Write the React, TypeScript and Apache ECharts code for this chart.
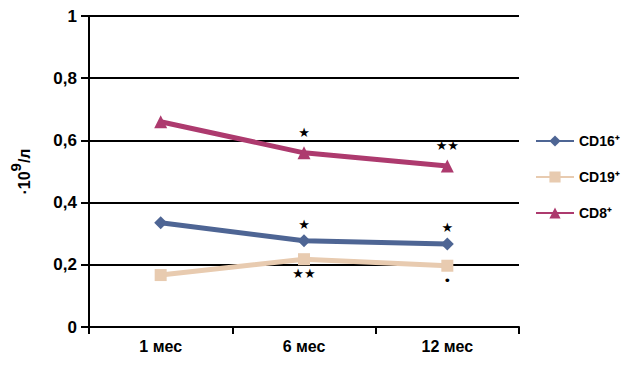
import React, { useEffect, useRef } from "react";
import * as echarts from "echarts";

const categories = ["1 мес", "6 мес", "12 мес"];
const cd16 = [0.335, 0.277, 0.267];
const cd19 = [0.167, 0.218, 0.197];
const cd8 = [0.66, 0.56, 0.518];
const cd16Marks = ["", "★", "★"];
const cd19Marks = ["", "★★", "•"];
const cd8Marks = ["", "★", "★★"];
const yTicks = [0, 0.2, 0.4, 0.6, 0.8, 1];

const FONT = "'Liberation Sans', Arial, sans-serif";

function mkData(values: number[], marks: string[]) {
  return values.map((v, i) => ({ value: v, mark: marks[i] }));
}

export default function App() {
  const ref = useRef<HTMLDivElement>(null);
  useEffect(() => {
    if (!ref.current) return;
    const chart = echarts.init(ref.current, null, { renderer: "svg" });
    const labelFor = (pos: string, dist: number) => ({
      show: true,
      position: pos,
      distance: dist,
      color: "#000",
      fontSize: 13,
      fontFamily: "'DejaVu Sans', sans-serif",
      formatter: (p: any) => p.data.mark || "",
    });
    const series = [
      { name: "CD16⁺", values: cd16, marks: cd16Marks, color: "#4e6594", symbol: "diamond", size: 13, label: labelFor("top", 3) },
      { name: "CD19⁺", values: cd19, marks: cd19Marks, color: "#e8cbb0", symbol: "rect", size: 12, label: labelFor("bottom", 2) },
      { name: "CD8⁺", values: cd8, marks: cd8Marks, color: "#ad3a6e", symbol: "triangle", size: 13, label: labelFor("top", 7) },
    ];
    chart.setOption({
      animation: false,
      backgroundColor: "#fff",
      grid: { left: 88, right: 104, top: 16, bottom: 38 },
      legend: {
        orient: "vertical",
        left: 530,
        top: 129,
        itemWidth: 38,
        itemHeight: 14,
        itemGap: 22,
        textStyle: { fontFamily: FONT, fontWeight: "bold", fontSize: 14, color: "#000" },
        data: series.map((s) => s.name),
      },
      xAxis: {
        type: "category",
        data: categories,
        boundaryGap: true,
        axisLine: { lineStyle: { color: "#000", width: 2 } },
        axisTick: { show: true, length: 7, lineStyle: { color: "#000", width: 2 } },
        axisLabel: { color: "#000", fontFamily: FONT, fontWeight: "bold", fontSize: 16, margin: 11 },
        splitLine: { show: false },
      },
      yAxis: {
        type: "value",
        min: yTicks[0],
        max: yTicks[yTicks.length - 1],
        interval: 0.2,
        name: "{n|·10}{s|9}{n|/л}",
        nameLocation: "middle",
        nameGap: 57,
        nameRotate: 90,
        nameTextStyle: {
          color: "#000",
          fontFamily: FONT,
          fontWeight: "bold",
          fontSize: 16,
          rich: {
            n: { fontFamily: FONT, fontWeight: "bold", fontSize: 16, color: "#000", verticalAlign: "bottom" },
            s: { fontFamily: FONT, fontWeight: "bold", fontSize: 15, color: "#000", verticalAlign: "bottom", padding: [0, 0, 9, 0] },
          },
        },
        axisLine: { show: true, lineStyle: { color: "#000", width: 2 } },
        axisTick: { show: true, length: 8, lineStyle: { color: "#000", width: 2 } },
        axisLabel: {
          color: "#000",
          fontFamily: FONT,
          fontWeight: "bold",
          fontSize: 17,
          margin: 12,
          formatter: (v: number) => String(Math.round(v * 10) / 10).replace(".", ","),
        },
        splitLine: { show: true, lineStyle: { color: "#000", width: 2 } },
      },
      series: series.map((s) => ({
        name: s.name,
        type: "line",
        data: mkData(s.values, s.marks),
        symbol: s.symbol,
        symbolSize: s.size,
        itemStyle: { color: s.color },
        lineStyle: { color: s.color, width: 5 },
        label: s.label,
        z: 3,
      })),
    });
    return () => chart.dispose();
  }, []);
  return <div ref={ref} style={{ width: 623, height: 365, position: "absolute", left: 0, top: 0 }} />;
}
